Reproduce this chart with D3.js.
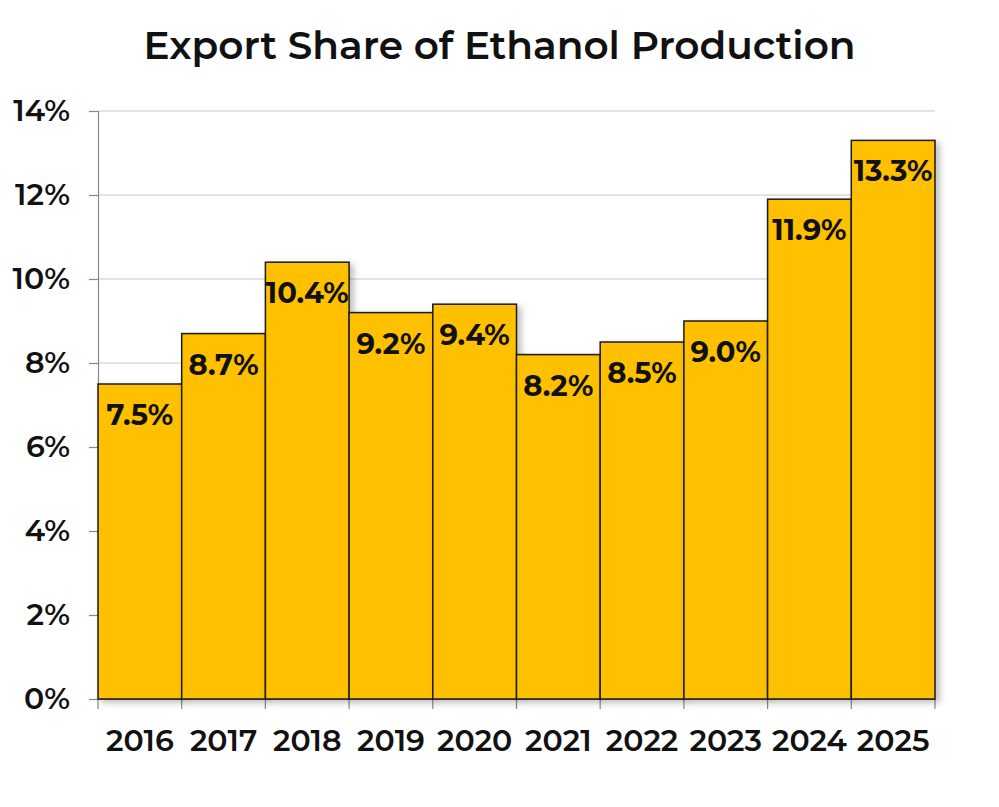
<!DOCTYPE html>
<html><head><meta charset="utf-8">
<script src="https://cdn.jsdelivr.net/npm/d3@7"></script>
<style>body{margin:0;background:#fff}svg{display:block}</style>
</head><body>
<script>
const years = ["2016","2017","2018","2019","2020","2021","2022","2023","2024","2025"];
const shares = [7.5, 8.7, 10.4, 9.2, 9.4, 8.2, 8.5, 9.0, 11.9, 13.3];
const yTicks = [0, 2, 4, 6, 8, 10, 12, 14];
const title = "Export Share of Ethanol Production";

const W = 999, H = 807;
const m = {left: 98, right: 64, top: 111, bottom: 108};
const font = "Montserrat, 'DejaVu Sans', sans-serif";

const svg = d3.select("body").append("svg").attr("width", W).attr("height", H);
const defs = svg.append("defs");
const f = defs.append("filter").attr("id","sh").attr("x","-20%").attr("y","-20%").attr("width","150%").attr("height","150%");
f.append("feDropShadow").attr("dx",4).attr("dy",3).attr("stdDeviation",3).attr("flood-color","#000").attr("flood-opacity",0.25);

const x = d3.scaleBand().domain(years).range([m.left, W - m.right]).padding(0);
const y = d3.scaleLinear().domain([0, 14]).range([H - m.bottom, m.top]);

svg.append("text").attr("x", W/2).attr("y", 59).attr("text-anchor","middle")
  .style("font-family", font).style("font-weight", 600).style("font-size","39px").attr("fill","#111").text(title);

// grid
svg.append("g").selectAll("line").data(yTicks.filter(d=>d>0)).join("line")
  .attr("x1", m.left).attr("x2", W - m.right)
  .attr("y1", d=>y(d)).attr("y2", d=>y(d))
  .attr("stroke","#c8c8c8").attr("stroke-width",1.2);

// y axis
const ya = svg.append("g").attr("transform",`translate(${m.left},0)`)
  .call(d3.axisLeft(y).tickValues(yTicks).tickFormat(d=>d+"%").tickSize(9).tickPadding(19));
ya.select(".domain").attr("stroke","#888").attr("stroke-width",1.2);
ya.selectAll(".tick line").attr("stroke","#888").attr("stroke-width",1.2);
ya.selectAll("text").style("font-family",font).style("font-weight",600).style("font-size","30px").attr("fill","#111");

// x axis
const xa = svg.append("g").attr("transform",`translate(0,${y(0)})`)
  .call(d3.axisBottom(x).tickSize(0).tickPadding(31));
xa.select(".domain").attr("stroke","#888").attr("stroke-width",1.2);
xa.selectAll("text").style("font-family",font).style("font-weight",600).style("font-size","30px").attr("fill","#111");
// boundary ticks
const bounds = years.map(d=>x(d)).concat([x(years[years.length-1]) + x.bandwidth()]);
xa.append("g").selectAll("line").data(bounds).join("line")
  .attr("x1",d=>d).attr("x2",d=>d).attr("y1",0).attr("y2",10)
  .attr("stroke","#888").attr("stroke-width",1.2);

// bars
svg.append("g").selectAll("rect").data(years).join("rect")
  .attr("x", d=>x(d)).attr("width", x.bandwidth())
  .attr("y", (d,i)=>y(shares[i])).attr("height",(d,i)=>y(0)-y(shares[i]))
  .attr("fill","#FFC000").attr("stroke","#1a1a1a").attr("stroke-width",1.5)
  .attr("filter","url(#sh)");

// labels
svg.append("g").selectAll("text").data(years).join("text")
  .attr("x", d=>x(d)+x.bandwidth()/2).attr("y",(d,i)=>y(shares[i])+41)
  .attr("text-anchor","middle")
  .style("font-family",font).style("font-weight",700).style("font-size","29px")
  .attr("fill","#111").text((d,i)=>shares[i].toFixed(1)+"%");
</script>
</body></html>
